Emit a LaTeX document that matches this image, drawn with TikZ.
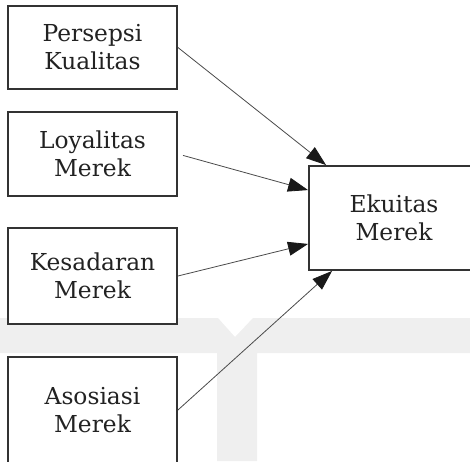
\documentclass[tikz,border=0pt]{standalone}
\usepackage{fontspec}
\setmainfont{DejaVu Serif}
\usetikzlibrary{arrows.meta}
\definecolor{boxline}{HTML}{333333}
\definecolor{txt}{HTML}{222222}
\definecolor{conn}{HTML}{4A4A4A}
\definecolor{wm}{HTML}{EFEFEF}
\tikzset{
  factor/.style={draw=boxline, line width=1.4pt, fill=white, inner sep=0pt,
    align=center, text=txt, font=\fontsize{17.5}{21}\selectfont},
  link/.style={draw=conn, line width=0.6pt,
    -{Triangle[length=15pt,width=10.5pt,color=black!90]}},
}
\begin{document}
\begin{tikzpicture}[x=0.75pt,y=-0.75pt]
  \path[use as bounding box] (0,0) rectangle (470,461);
  \clip (0,0) rectangle (470,461);

  % faint background mark
  \fill[wm] (0,318) -- (218,318) -- (235,337) -- (253,318) -- (470,318)
            -- (470,353) -- (257,353) -- (257,461) -- (217,461)
            -- (217,353) -- (0,353) -- cycle;

  % factors
  \node[factor, minimum width=126.75pt, minimum height=62.25pt] (p1) at (92.5,47.5) {Persepsi\\Kualitas};
  \node[factor, minimum width=126.75pt, minimum height=63pt]    (p2) at (92.5,154)  {Loyalitas\\Merek};
  \node[factor, minimum width=126.75pt, minimum height=72pt]    (p3) at (92.5,276)  {Kesadaran\\Merek};
  \node[factor, minimum width=126.75pt, minimum height=79.5pt]  (p4) at (92.5,410)  {Asosiasi\\Merek};
  \node[factor, minimum width=127.5pt,  minimum height=78pt]    (ek) at (394,218)   {Ekuitas\\Merek};

  % influences
  \draw[link] (p1.east) -- ([xshift=13.5pt]ek.north west);
  \draw[link, shorten <=4pt] (p2.east) -- ([yshift=-18.75pt]ek.north west);
  \draw[link] (p3.east) -- ([yshift=20.25pt]ek.south west);
  \draw[link] (p4.east) -- ([xshift=18pt]ek.south west);
\end{tikzpicture}
\end{document}
